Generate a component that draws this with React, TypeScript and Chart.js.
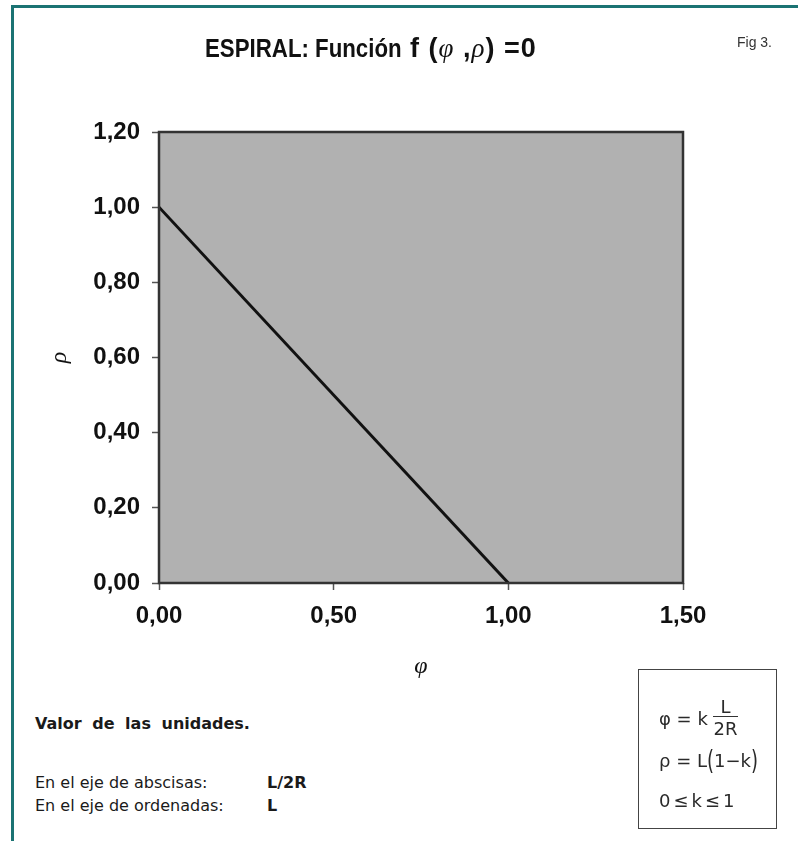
import React, { useEffect, useRef } from "react";
import { Chart, registerables } from "chart.js";

Chart.register(...registerables);

// ---- data ----
const phiValues = [0, 1];
const rhoValues = [1, 0];
const xTickValues = [0, 0.5, 1, 1.5];
const yTickValues = [0, 0.2, 0.4, 0.6, 0.8, 1, 1.2];
const chartTitle = "ESPIRAL: Función";
const xAxisTitle = "φ";
const yAxisTitle = "ρ";

const fmt = (v: number) => Number(v).toFixed(2).replace(".", ",");

const plotBgPlugin = {
  id: "plotBg",
  beforeDraw(chart: any) {
    const { ctx, chartArea: a } = chart;
    ctx.save();
    ctx.fillStyle = "#b1b1b1";
    ctx.fillRect(a.left, a.top, a.right - a.left, a.bottom - a.top);
    ctx.restore();
  },
  afterDatasetsDraw(chart: any) {
    const { ctx, chartArea: a } = chart;
    ctx.save();
    ctx.strokeStyle = "#333";
    ctx.lineWidth = 2.5;
    ctx.strokeRect(a.left, a.top, a.right - a.left, a.bottom - a.top);
    ctx.restore();
  },
};

function SpiralChart() {
  const ref = useRef<HTMLCanvasElement | null>(null);
  useEffect(() => {
    if (!ref.current) return;
    const chart = new Chart(ref.current, {
      type: "scatter",
      data: {
        datasets: [
          {
            data: phiValues.map((x, i) => ({ x, y: rhoValues[i] })),
            showLine: true,
            borderColor: "#111",
            borderWidth: 3,
            pointRadius: 0,
            fill: false,
          },
        ],
      },
      options: {
        animation: false,
        responsive: false,
        events: [],
        layout: { padding: { top: 132, right: 115, left: 0, bottom: 0 } },
        plugins: { legend: { display: false }, tooltip: { enabled: false }, title: { display: false } },
        scales: {
          x: {
            type: "linear",
            min: 0,
            max: 1.5,
            afterBuildTicks: (s: any) => {
              s.ticks = xTickValues.map((v) => ({ value: v }));
            },
            afterFit: (s: any) => {
              s.height = 117;
            },
            ticks: {
              callback: (v: any) => fmt(v),
              color: "#111",
              font: { family: "Liberation Sans", size: 24, weight: "bold" },
              padding: 12,
              maxRotation: 0,
            },
            grid: { drawOnChartArea: false, drawTicks: true, tickLength: 7, tickColor: "#555", tickWidth: 1.5 },
            border: { display: false },
            title: {
              display: true,
              text: xAxisTitle,
              color: "#111",
              font: { family: "Liberation Serif", size: 24, style: "italic" },
              padding: { top: 0, bottom: 19 },
            },
          },
          y: {
            type: "linear",
            min: 0,
            max: 1.2,
            afterBuildTicks: (s: any) => {
              s.ticks = yTickValues.map((v) => ({ value: v }));
            },
            afterFit: (s: any) => {
              s.width = 159;
            },
            ticks: {
              callback: (v: any) => fmt(v),
              color: "#111",
              font: { family: "Liberation Sans", size: 24, weight: "bold" },
              padding: 12,
            },
            grid: { drawOnChartArea: false, drawTicks: true, tickLength: 7, tickColor: "#555", tickWidth: 1.5 },
            border: { display: false },
            title: {
              display: true,
              text: yAxisTitle,
              color: "#111",
              font: { family: "Liberation Serif", size: 24, style: "italic" },
              padding: { top: 45, bottom: 0 },
            },
          },
        },
      },
      plugins: [plotBgPlugin],
    } as any);
    return () => chart.destroy();
  }, []);
  return (
    <canvas
      ref={ref}
      width={798}
      height={700}
      style={{ position: "absolute", left: 0, top: 0, width: 798, height: 700 }}
    />
  );
}

const abs = (left: number, top: number, extra: any = {}) => ({
  position: "absolute" as const,
  left,
  top,
  whiteSpace: "pre" as const,
  ...extra,
});

export default function App() {
  const sans = "'DejaVu Sans', sans-serif";
  const body = { fontFamily: sans, fontSize: 16, lineHeight: "16px", color: "#1a1a1a" };
  const math = { fontFamily: sans, fontSize: 18, lineHeight: "18px", color: "#2a2a2a" };
  const greek = { fontFamily: "'Liberation Serif', serif", fontStyle: "italic", fontWeight: "normal" };
  return (
    <div
      style={{
        position: "absolute",
        left: 0,
        top: 0,
        width: 798,
        height: 841,
        background: "#fff",
        overflow: "hidden",
      }}
    >
      {/* teal frame */}
      <div style={{ position: "absolute", left: 11, top: 5, width: 787, height: 3, background: "#1b7373" }} />
      <div style={{ position: "absolute", left: 11, top: 5, width: 3, height: 836, background: "#1b7373" }} />

      <SpiralChart />

      {/* title */}
      <div
        style={abs(205, 35, {
          fontFamily: "'Liberation Sans', Arial, sans-serif",
          fontWeight: "bold",
          fontSize: 26.5,
          lineHeight: "26.5px",
          color: "#111",
          transform: "scaleX(0.84)",
          transformOrigin: "left top",
        })}
      >
        {chartTitle}
      </div>
      <div
        style={abs(410, 34.5, {
          fontFamily: "'Liberation Sans', Arial, sans-serif",
          fontWeight: "bold",
          fontSize: 27,
          lineHeight: "27px",
          letterSpacing: 1,
          color: "#111",
        })}
      >
        {"f ("}
        <span style={greek}>φ</span>
        {" ,"}
        <span style={greek}>ρ</span>
        {") =0"}
      </div>

      <div style={abs(737, 35, { fontFamily: "'Liberation Sans', sans-serif", fontSize: 14, lineHeight: "14px", color: "#333" })}>
        Fig 3.
      </div>

      {/* units text */}
      <div style={abs(35, 716, { ...body, fontWeight: "bold", wordSpacing: 5 })}>Valor de las unidades.</div>
      <div style={abs(35, 775, body)}>En el eje de abscisas:</div>
      <div style={abs(267, 775, { ...body, fontWeight: "bold" })}>L/2R</div>
      <div style={abs(35, 798, body)}>En el eje de ordenadas:</div>
      <div style={abs(267, 798, { ...body, fontWeight: "bold" })}>L</div>

      {/* formula box */}
      <div
        style={{
          position: "absolute",
          left: 638,
          top: 669,
          width: 137,
          height: 158,
          border: "1.5px solid #444",
        }}
      />
      <div style={abs(659, 710, math)}>φ = k</div>
      <div style={abs(713, 698, { ...math, width: 25, textAlign: "center" })}>L</div>
      <div style={{ position: "absolute", left: 713, top: 715.5, width: 25, height: 1.5, background: "#333" }} />
      <div style={abs(713, 720, { ...math, width: 25, textAlign: "center" })}>2R</div>
      <div style={abs(659, 752, math)}>
        {"ρ = L"}
        <span style={{ display: "inline-block", transform: "scaleY(1.45)", transformOrigin: "center 60%" }}>(</span>
        {"1−k"}
        <span style={{ display: "inline-block", transform: "scaleY(1.45)", transformOrigin: "center 60%" }}>)</span>
      </div>
      <div style={abs(659, 792, math)}>
        {"0"}
        <span style={{ margin: "0 3px" }}>≤</span>
        {"k"}
        <span style={{ margin: "0 3px" }}>≤</span>
        {"1"}
      </div>
    </div>
  );
}
